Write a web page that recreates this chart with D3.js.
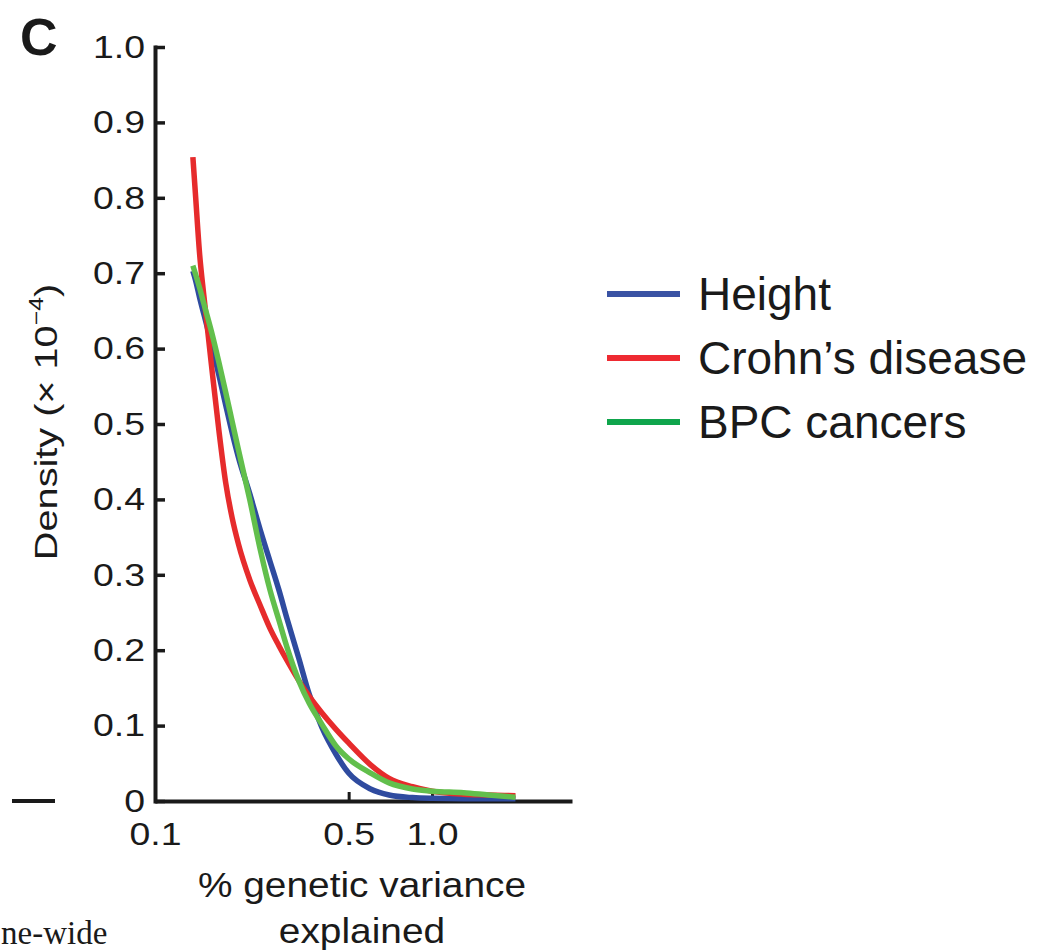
<!DOCTYPE html>
<html>
<head>
<meta charset="utf-8">
<script src="https://cdn.jsdelivr.net/npm/d3@7"></script>
<style>
  html, body { margin: 0; padding: 0; background: #fff; }
  svg { display: block; }
  text { font-family: "Liberation Sans", Arial, Helvetica, sans-serif; fill: #1a1a1a; }
</style>
</head>
<body>
<svg id="chart" width="1042" height="950"></svg>
<script>
// % genetic variance explained (log axis) at which the densities are sampled
const variance = [0.137, 0.14, 0.145, 0.15, 0.16, 0.17, 0.18, 0.19, 0.2, 0.22, 0.24, 0.26, 0.28, 0.3, 0.33, 0.36, 0.4, 0.45, 0.5, 0.6, 0.7, 0.85, 1.0, 1.3, 1.6, 2.0];

// Density (x 10^-4) for each trait
const heightDensity = [0.703, 0.691, 0.667, 0.646, 0.606, 0.565, 0.525, 0.488, 0.456, 0.407, 0.359, 0.318, 0.280, 0.241, 0.190, 0.142, 0.098, 0.062, 0.037, 0.016, 0.008, 0.0045, 0.0035, 0.003, 0.003, 0.003];
const crohnsDensity = [0.854, 0.804, 0.724, 0.671, 0.577, 0.492, 0.422, 0.375, 0.341, 0.293, 0.259, 0.229, 0.206, 0.186, 0.160, 0.139, 0.117, 0.095, 0.077, 0.048, 0.030, 0.019, 0.013, 0.009, 0.008, 0.007];
const bpcDensity = [0.710, 0.699, 0.680, 0.660, 0.622, 0.582, 0.542, 0.503, 0.466, 0.399, 0.333, 0.280, 0.240, 0.203, 0.160, 0.130, 0.102, 0.073, 0.056, 0.037, 0.024, 0.016, 0.013, 0.011, 0.008, 0.005];

const seriesNames = ["Height", "Crohn\u2019s disease", "BPC cancers"];
const lineColors = ["#2f4b9f", "#e62b2c", "#62bf4c"];
const legendColors = ["#3a53a4", "#ee2a31", "#0fa54c"];

const xTickValues = [0.1, 0.5, 1.0];
const xTickLabels = ["0.1", "0.5", "1.0"];
const yTickValues = [0, 0.1, 0.2, 0.3, 0.4, 0.5, 0.6, 0.7, 0.8, 0.9, 1.0];
const yTickLabels = ["0", "0.1", "0.2", "0.3", "0.4", "0.5", "0.6", "0.7", "0.8", "0.9", "1.0"];

const svg = d3.select("#chart");

const x = d3.scaleLog().domain([0.1, 3.2]).range([155, 572]);
const y = d3.scaleLinear().domain([0, 1]).range([801, 47]);

const ink = "#1a1a1a";

// y axis, ticks pointing inward
const yAxis = svg.append("g")
  .attr("transform", `translate(${x(0.1)},0)`)
  .call(d3.axisLeft(y)
    .tickValues(yTickValues)
    .tickFormat((d, i) => yTickLabels[i])
    .tickSizeInner(-10)
    .tickSizeOuter(0)
    .tickPadding(10));
yAxis.select(".domain").attr("stroke", ink).attr("stroke-width", 4).attr("stroke-linecap", "square");
yAxis.selectAll(".tick line").attr("stroke", ink).attr("stroke-width", 3.5);
const tickSX = 1.17;
yAxis.selectAll(".tick text")
  .attr("font-size", 32)
  .attr("fill", ink)
  .attr("x", -10 / tickSX)
  .attr("transform", `scale(${tickSX},1)`);

// x axis
const xAxis = svg.append("g")
  .attr("transform", `translate(0,${y(0)})`)
  .call(d3.axisBottom(x)
    .tickValues(xTickValues)
    .tickFormat((d, i) => xTickLabels[i])
    .tickSizeInner(-9)
    .tickSizeOuter(0)
    .tickPadding(21));
xAxis.select(".domain").attr("stroke", ink).attr("stroke-width", 4);
xAxis.selectAll(".tick line").attr("stroke", ink).attr("stroke-width", 3);
xAxis.selectAll(".tick text")
  .attr("font-size", 32)
  .attr("fill", ink)
  .attr("transform", `scale(${tickSX},1)`);

// density curves
const line = d3.line()
  .x(d => x(d[0]))
  .y(d => y(d[1]))
  .curve(d3.curveMonotoneX);

const seriesValues = [heightDensity, crohnsDensity, bpcDensity];
seriesValues.forEach((vals, i) => {
  svg.append("path")
    .datum(variance.map((v, j) => [v, vals[j]]))
    .attr("d", line)
    .attr("fill", "none")
    .attr("stroke", lineColors[i])
    .attr("stroke-width", 5.5)
    .attr("stroke-linejoin", "round");
});

// panel letter
svg.append("text")
  .attr("x", 20).attr("y", 55)
  .attr("font-size", 52)
  .attr("font-weight", "bold")
  .attr("fill", ink)
  .text("C");

// y axis title
const yTitle = svg.append("text")
  .attr("transform", "translate(57,422) rotate(-90) scale(1.24,1)")
  .attr("text-anchor", "middle")
  .attr("font-size", 32)
  .attr("fill", ink);
yTitle.append("tspan").text("Density (\u00d7 10");
yTitle.append("tspan").attr("font-size", 20).attr("dy", -14).text("\u22124");
yTitle.append("tspan").attr("dy", 14).text(")");

// x axis title
const xTitleSX = 1.11;
[["% genetic variance", 897], ["explained", 943]].forEach(([t, yy]) => {
  svg.append("text")
    .attr("transform", `translate(362,${yy}) scale(${xTitleSX},1)`)
    .attr("text-anchor", "middle")
    .attr("font-size", 35)
    .attr("fill", ink)
    .text(t);
});

// legend
const legend = svg.append("g").attr("transform", "translate(607,294)");
seriesNames.forEach((name, i) => {
  const g = legend.append("g").attr("transform", `translate(0,${i * 64})`);
  g.append("line")
    .attr("x1", 0).attr("x2", 73)
    .attr("stroke", legendColors[i])
    .attr("stroke-width", 6);
  g.append("text")
    .attr("x", 91).attr("y", 16)
    .attr("font-size", 46)
    .attr("fill", ink)
    .text(name);
});

// neighbouring page content at the left edge
svg.append("line")
  .attr("x1", 12).attr("x2", 55)
  .attr("y1", 801).attr("y2", 801)
  .attr("stroke", ink).attr("stroke-width", 4);
svg.append("text")
  .attr("x", 1).attr("y", 944)
  .style("font-family", "'Liberation Serif', 'Times New Roman', serif")
  .attr("font-size", 33)
  .attr("fill", ink)
  .text("ne-wide");
</script>
</body>
</html>
